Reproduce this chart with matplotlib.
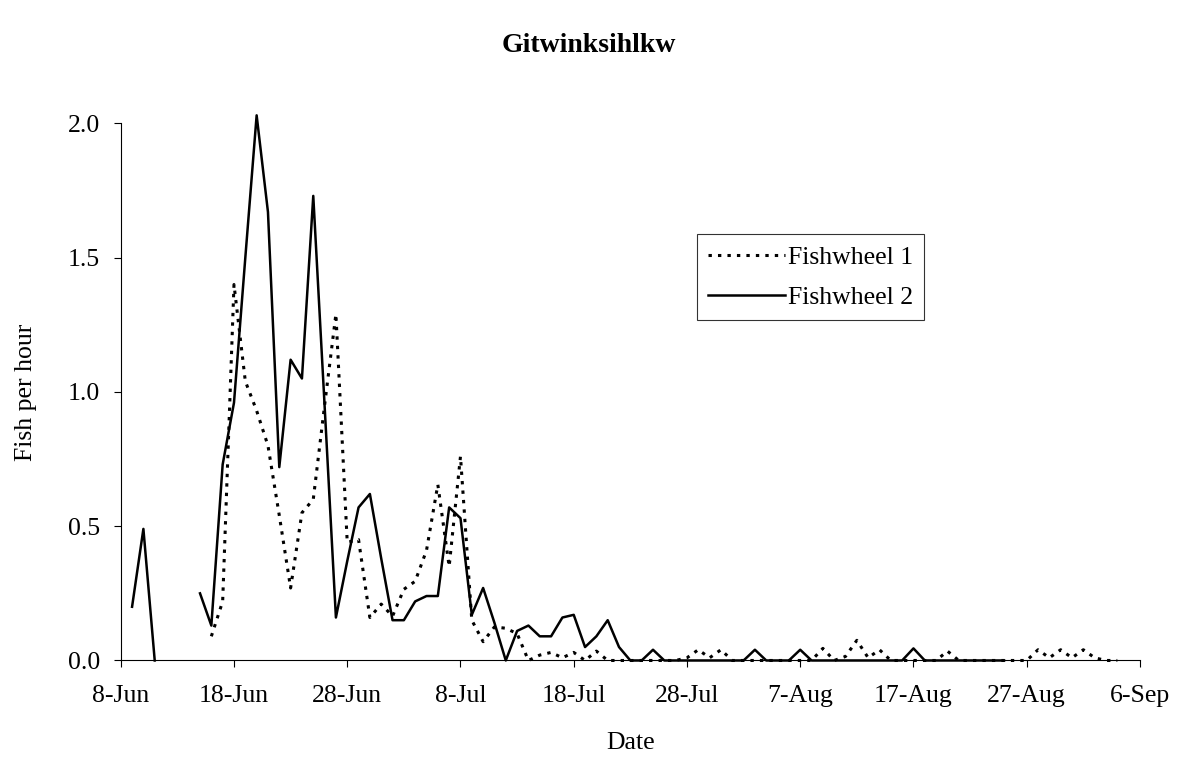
import numpy as np
import matplotlib
matplotlib.use("Agg")
import matplotlib.pyplot as plt

plt.rcParams['font.family'] = ['Liberation Serif', 'DejaVu Serif']

# Day offsets from 8-Jun
tick_days = [0, 10, 20, 30, 40, 50, 60, 70, 80, 90]
tick_labels = ["8-Jun", "18-Jun", "28-Jun", "8-Jul", "18-Jul", "28-Jul",
               "7-Aug", "17-Aug", "27-Aug", "6-Sep"]

nan = np.nan
# Fishwheel 1 (dotted), days 8..88
fw1_days = list(range(8, 89))
fw1_vals = [0.09, 0.22, 1.40, 1.04, 0.93, 0.80, 0.54, 0.27, 0.55, 0.60,   # 8-17
            0.95, 1.29, 0.44, 0.45, 0.16, 0.21, 0.165, 0.265, 0.295, 0.41,  # 18-27
            0.655, 0.35, 0.76, 0.15, 0.07, 0.125, 0.12, 0.10, 0.00, 0.02,  # 28-37
            0.03, 0.01, 0.03, 0.00, 0.035, 0.0, 0.0, 0.0, 0.0, 0.0,        # 38-47
            0.0, 0.0, 0.01, 0.04, 0.01, 0.04, 0.0, 0.0, 0.0, 0.0,          # 48-57
            0.0, 0.0, 0.0, 0.0, 0.045, 0.0, 0.015, 0.075, 0.01, 0.04,      # 58-67
            0.0, 0.0, 0.0, 0.0, 0.0, 0.035, 0.0, 0.0, 0.0, 0.0,            # 68-77
            0.0, 0.0, 0.0, 0.04, 0.01, 0.04, 0.01, 0.04, 0.01, 0.0,        # 78-87
            0.0]                                                           # 88

# Fishwheel 2 (solid), days 1..78
fw2_days = list(range(1, 79))
fw2_vals = [0.20, 0.49, 0.00, nan, nan, nan, 0.25, 0.13, 0.73, 0.96,      # 1-10
            1.50, 2.03, 1.67, 0.72, 1.12, 1.05, 1.73, 0.95, 0.16, 0.37,    # 11-20
            0.57, 0.62, 0.38, 0.15, 0.15, 0.22, 0.24, 0.24, 0.57, 0.53,    # 21-30
            0.17, 0.27, 0.14, 0.00, 0.11, 0.13, 0.09, 0.09, 0.16, 0.17,    # 31-40
            0.05, 0.09, 0.15, 0.05, 0.00, 0.00, 0.04, 0.0, 0.0, 0.0,       # 41-50
            0.0, 0.0, 0.0, 0.0, 0.0, 0.04, 0.0, 0.0, 0.0, 0.04,            # 51-60
            0.0, 0.0, 0.0, 0.0, 0.0, 0.0, 0.0, 0.0, 0.0, 0.045,            # 61-70
            0.0, 0.0, 0.0, 0.0, 0.0, 0.0, 0.0, 0.0]                        # 71-78

y_ticks = [0.0, 0.5, 1.0, 1.5, 2.0]

FS = 18.5

fig = plt.figure(figsize=(11.78, 7.57), dpi=100)
ax = fig.add_axes([0.1025, 0.1275, 0.8652, 0.7095])

ax.plot(fw1_days, fw1_vals, color='black', lw=2.2, linestyle=(0, (1.1, 2.0)),
        label='Fishwheel 1', clip_on=False)
ax.plot(fw2_days, fw2_vals, color='black', lw=1.8, linestyle='-',
        label='Fishwheel 2', clip_on=False)

ax.set_xlim(0, 90)
ax.set_ylim(0, 2.0)
ax.set_xticks(tick_days)
ax.set_xticklabels(tick_labels)
ax.set_yticks(y_ticks)
ax.set_yticklabels([f"{v:.1f}" for v in y_ticks])
ax.tick_params(axis='both', labelsize=FS, length=5, width=0.8, direction='out')
ax.tick_params(axis='x', pad=13)
ax.tick_params(axis='y', pad=10)
for s in ['top', 'right']:
    ax.spines[s].set_visible(False)
for s in ['left', 'bottom']:
    ax.spines[s].set_linewidth(0.8)

ax.set_xlabel("Date", fontsize=FS, labelpad=18)
ax.set_ylabel("Fish per hour", fontsize=FS, labelpad=22)
fig.text(0.5, 0.94, "Gitwinksihlkw", ha='center', va='center',
         fontsize=20, fontweight='bold')

leg = ax.legend(loc='upper left', bbox_to_anchor=(0.565, 0.7935), borderaxespad=0,
                fontsize=FS, frameon=True, fancybox=False, edgecolor='black',
                handlelength=3.0, handletextpad=0.1, labelspacing=0.65, borderpad=0.45)
leg.get_frame().set_linewidth(0.8)

fig.savefig("out.png", dpi=100)
